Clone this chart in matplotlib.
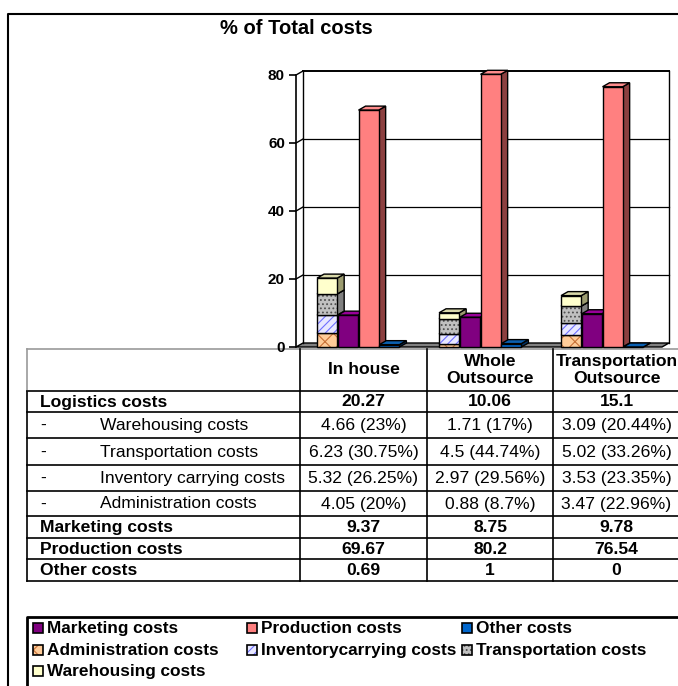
import matplotlib
matplotlib.use("Agg")
import matplotlib.pyplot as plt
from matplotlib.patches import Rectangle, Polygon

plt.rcParams['font.family'] = ['Liberation Sans', 'DejaVu Sans']
plt.rcParams['hatch.linewidth'] = 0.8

# data
scenarios = ["In house", "Whole\nOutsource", "Transportation\nOutsource"]
logistics = [20.27, 10.06, 15.1]
warehousing = [4.66, 1.71, 3.09]
warehousing_pct = ["23%", "17%", "20.44%"]
transportation = [6.23, 4.5, 5.02]
transportation_pct = ["30.75%", "44.74%", "33.26%"]
inventory = [5.32, 2.97, 3.53]
inventory_pct = ["26.25%", "29.56%", "23.35%"]
administration = [4.05, 0.88, 3.47]
administration_pct = ["20%", "8.7%", "22.96%"]
marketing = [9.37, 8.75, 9.78]
production = [69.67, 80.2, 76.54]
other = [0.69, 1, 0]

# styles: face, top, side, hatch, hatch colour
sty = {
    "Marketing costs": ("#800080", "#990099", "#4a004a", None, None),
    "Production costs": ("#ff8080", "#ff8c8c", "#8c4040", None, None),
    "Other costs": ("#0066cc", "#0a5fb0", "#003366", None, None),
    "Administration costs": ("#ffcc99", "#e6b88a", "#b38f6b", "xx", "#c87137"),
    "Inventorycarrying costs": ("#e8e8ff", "#c8c8f0", "#9090b8", "////", "#6f6fff"),
    "Transportation costs": ("#c0c0c0", "#a8a8a8", "#808080", "....", "#505050"),
    "Warehousing costs": ("#ffffcc", "#d8d8a8", "#9c9c70", None, None),
}

W, H = 678, 686
fig = plt.figure(figsize=(W / 100, H / 100), dpi=100)

# overlay in pixel coordinates for the frame, table and legend
ov = fig.add_axes([0, 0, 1, 1])
ov.set_xlim(0, W)
ov.set_ylim(H, 0)
ov.axis("off")

# chart axes
x_l, x_r, y_t, y_b = 296, 662, 75, 347
ax = fig.add_axes([x_l / W, (H - y_b) / H, (x_r - x_l) / W, (y_b - y_t) / H])
ax.patch.set_alpha(0)
ax.set_xlim(-0.5, 2.5)
ax.set_ylim(0, 80)
dx = 7 / 122
dy = 4 * 80 / 272

for s in ["top", "right", "bottom"]:
    ax.spines[s].set_visible(False)
ax.spines["left"].set_linewidth(1.2)
ax.set_xticks([])
ax.set_yticks([0, 20, 40, 60, 80])
ax.tick_params(axis="y", length=5, width=1.2, pad=3, labelsize=11)
for t in ax.get_yticklabels():
    t.set_fontweight("bold")

# walls, floor and gridlines
kw = dict(color="black", lw=1, clip_on=False)
ax.plot([-0.5 + dx, -0.5 + dx], [dy, 80 + dy], **kw)
ax.plot([2.5 + dx, 2.5 + dx], [dy, 80 + dy], **kw)
for g in [20, 40, 60, 80]:
    ax.plot([-0.5 + dx, 2.5 + dx], [g + dy, g + dy], color="black", lw=0.9 if g < 80 else 1.4, clip_on=False, zorder=1)
    ax.plot([-0.5, -0.5 + dx], [g, g + dy], **kw)
ax.add_patch(Polygon([(-0.5, 0), (2.5, 0), (2.5 + dx, dy), (-0.5 + dx, dy)],
                     closed=True, facecolor="#808080", edgecolor="black", lw=1, clip_on=False, zorder=1))


def bar3d(x0, y0, y1, w, name, z):
    face, top, side, hatch, hc = sty[name]
    ax.add_patch(Polygon([(x0 + w, y0), (x0 + w + dx, y0 + dy), (x0 + w + dx, y1 + dy), (x0 + w, y1)],
                         closed=True, facecolor=side, edgecolor="black", lw=1, clip_on=False, zorder=z))
    ax.add_patch(Polygon([(x0, y1), (x0 + w, y1), (x0 + w + dx, y1 + dy), (x0 + dx, y1 + dy)],
                         closed=True, facecolor=top, edgecolor="black", lw=1, clip_on=False, zorder=z))
    ax.add_patch(Rectangle((x0, y0), w, y1 - y0, facecolor=face, edgecolor="none", clip_on=False, zorder=z))
    if hatch:
        ax.add_patch(Rectangle((x0, y0), w, y1 - y0, facecolor="none", edgecolor=hc, hatch=hatch,
                               lw=0, clip_on=False, zorder=z))
    ax.add_patch(Rectangle((x0, y0), w, y1 - y0, facecolor="none", edgecolor="black", lw=1,
                           clip_on=False, zorder=z))


bw = 0.165
offs = [-0.245, -0.075, 0.095, 0.265]
stack = [("Administration costs", administration), ("Inventorycarrying costs", inventory),
         ("Transportation costs", transportation), ("Warehousing costs", warehousing)]
z = 3
for i in range(3):
    base = 0
    for name, vals in stack:
        bar3d(i + offs[0] - bw / 2, base, base + vals[i], bw, name, z)
        base += vals[i]
        z += 0.01
    z += 1
    bar3d(i + offs[1] - bw / 2, 0, marketing[i], bw, "Marketing costs", z)
    z += 1
    bar3d(i + offs[2] - bw / 2, 0, production[i], bw, "Production costs", z)
    z += 1
    bar3d(i + offs[3] - bw / 2, 0, other[i], bw, "Other costs", z)
    z += 1

# outer frame and title
ov.plot([8, 8, W + 5], [H + 5, 14, 14], color="black", lw=1.5)
ov.text(296, 29, "% of Total costs", ha="center", va="center", fontsize=14.5, fontweight="bold")

# table
rows_y = [349, 391, 412, 438, 465, 491, 516, 538, 559, 581]
cols_x = [27, 300, 427, 553, 690]
for k, y in enumerate(rows_y):
    ov.plot([27, 690], [y, y], color="#9a9a9a" if k == 0 else "black", lw=1.2)
ov.plot([27, 27], [349, 391], color="#9a9a9a", lw=1.2)
ov.plot([27, 27], [391, 581], color="black", lw=1.2)
for x in cols_x[1:4]:
    ov.plot([x, x], [349, 581], color="black", lw=1.2)

fs = 12.6
col_c = [363.5, 490, 616.5]
for j, name in enumerate(scenarios):
    ov.text(col_c[j], 370, name, ha="center", va="center", fontsize=fs, fontweight="bold", linespacing=1.1)

table_rows = [
    ("Logistics costs", [f"{v:g}" for v in logistics], True),
    ("Warehousing costs", [f"{v:g} ({p})" for v, p in zip(warehousing, warehousing_pct)], False),
    ("Transportation costs", [f"{v:g} ({p})" for v, p in zip(transportation, transportation_pct)], False),
    ("Inventory carrying costs", [f"{v:g} ({p})" for v, p in zip(inventory, inventory_pct)], False),
    ("Administration costs", [f"{v:g} ({p})" for v, p in zip(administration, administration_pct)], False),
    ("Marketing costs", [f"{v:g}" for v in marketing], True),
    ("Production costs", [f"{v:g}" for v in production], True),
    ("Other costs", [f"{v:g}" for v in other], True),
]
for k, (label, cells, main) in enumerate(table_rows):
    yc = (rows_y[k + 1] + rows_y[k + 2]) / 2 + 0.5
    fw = "bold" if main else "normal"
    if main:
        ov.text(40, yc, label, ha="left", va="center", fontsize=fs, fontweight=fw)
    else:
        ov.text(40, yc, "-", ha="left", va="center", fontsize=fs)
        ov.text(100, yc, label, ha="left", va="center", fontsize=fs)
    for j, c in enumerate(cells):
        ov.text(col_c[j], yc, c, ha="center", va="center", fontsize=fs, fontweight=fw)

# legend
ov.plot([27, 27, W + 5], [H + 5, 617, 617], color="black", lw=2)
leg = [["Marketing costs", "Production costs", "Other costs"],
       ["Administration costs", "Inventorycarrying costs", "Transportation costs"],
       ["Warehousing costs"]]
leg_x = [33, 247, 462]
leg_y = [628, 650, 671]
for r, names in enumerate(leg):
    for c, name in enumerate(names):
        face, top, side, hatch, hc = sty[name]
        x, y = leg_x[c], leg_y[r]
        ov.add_patch(Rectangle((x, y - 5), 10, 10, facecolor=face, edgecolor="none"))
        if hatch:
            ov.add_patch(Rectangle((x, y - 5), 10, 10, facecolor="none", edgecolor=hc, hatch=hatch, lw=0))
        ov.add_patch(Rectangle((x, y - 5), 10, 10, facecolor="none", edgecolor="black", lw=1.2))
        ov.text(x + 14, y + 0.5, name, ha="left", va="center", fontsize=12.4, fontweight="bold")

fig.savefig("out.png", dpi=100)
